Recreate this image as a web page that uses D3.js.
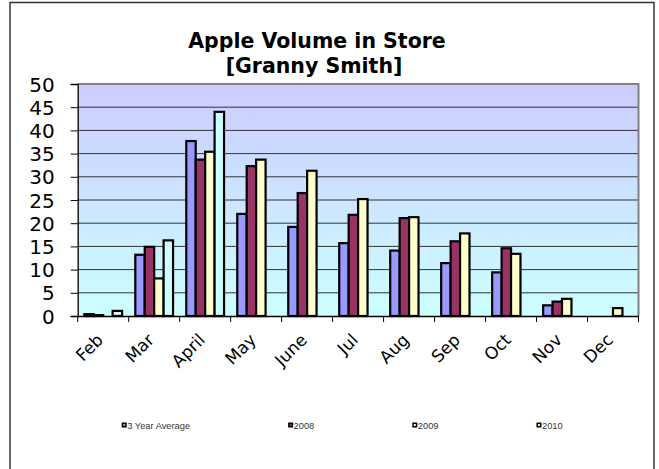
<!DOCTYPE html>
<html><head><meta charset="utf-8">
<script src="https://cdn.jsdelivr.net/npm/d3@7"></script>
<style>html,body{margin:0;padding:0;background:#fff;}svg{display:block;}</style>
</head><body>
<script>
const months = ["Feb","Mar","April","May","June","Jul","Aug","Sep","Oct","Nov","Dec"];
const seriesNames = ["3 Year Average","2008","2009","2010"];
const avg3  = [0.4, 13.2, 37.7, 22.0, 19.2, 15.7, 14.1, 11.4, 9.4, 2.3, null];
const y2008 = [0.2, 14.9, 33.7, 32.3, 26.5, 21.8, 21.1, 16.1, 14.6, 3.1, null];
const y2009 = [0.0, 8.1, 35.4, 33.7, 31.3, 25.2, 21.3, 17.8, 13.4, 3.7, 1.7];
const y2010 = [1.1, 16.3, 44.0, null, null, null, null, null, null, null, null];
const yTicks = [0,5,10,15,20,25,30,35,40,45,50];
const colors = ["#9999FF","#993366","#FFFFCC","#CCFFFF"];

const W = 659, H = 469;
const L = 77.7, R = 638.5, T = 84, B = 316;
const svg = d3.select("body").append("svg").attr("width", W).attr("height", H);

// chart frame
svg.append("rect").attr("x",10).attr("y",2.5).attr("width",644).attr("height",480)
  .attr("fill","#fff").attr("stroke","#333").attr("stroke-width",1.5);

const defs = svg.append("defs");
const grad = defs.append("linearGradient").attr("id","bg").attr("x1",0).attr("y1",0).attr("x2",0).attr("y2",1);
grad.append("stop").attr("offset","0%").attr("stop-color","#CCCCFF");
grad.append("stop").attr("offset","100%").attr("stop-color","#CCFFFF");

const x = d3.scaleBand().domain(months).range([L,R]).padding(0);
const xs = d3.scaleBand().domain(seriesNames).range([0, x.bandwidth()]).paddingInner(0).paddingOuter(0.7);
const y = d3.scaleLinear().domain([0,50]).range([B,T]);

svg.append("rect").attr("x",L).attr("y",T).attr("width",R-L).attr("height",B-T).attr("fill","url(#bg)");

// gridlines
svg.append("g").selectAll("line").data(yTicks.filter(d=>d>0 && d<50)).join("line")
  .attr("x1",L).attr("x2",R).attr("y1",d=>y(d)).attr("y2",d=>y(d))
  .attr("stroke","#333").attr("stroke-width",1);

// plot border top/right gray
svg.append("path").attr("d",`M${L},${T}H${R}V${B}`).attr("fill","none")
  .attr("stroke","#808080").attr("stroke-width",2);

// bars
const all = [avg3,y2008,y2009,y2010];
const rows = [];
months.forEach((m,i)=>{
  seriesNames.forEach((s,j)=>{
    const v = all[j][i];
    if (v !== null && v !== undefined) rows.push({m,s,v,c:colors[j]});
  });
});
svg.append("g").selectAll("rect").data(rows).join("rect")
  .attr("x",d=>x(d.m)+xs(d.s)).attr("width",xs.bandwidth())
  .attr("y",d=>y(d.v)).attr("height",d=>B-y(d.v))
  .attr("fill",d=>d.c).attr("stroke","#000").attr("stroke-width",2.2);

// y axis
const ya = svg.append("g").attr("transform",`translate(${L},0)`)
  .call(d3.axisLeft(y).tickValues(yTicks).tickSize(7).tickPadding(0).tickFormat(d3.format("d")));
ya.select(".domain").attr("stroke","#000").attr("stroke-width",1.3);
ya.selectAll(".tick line").attr("stroke","#000");
ya.selectAll(".tick text").attr("x",-23).attr("dy","0.35em")
  .style("font-family","'DejaVu Sans', sans-serif").style("font-size","20px").attr("fill","#000");

// x axis
const xa = svg.append("g").attr("transform",`translate(0,${B})`)
  .call(d3.axisBottom(x).tickSize(0).tickFormat(""));
xa.select(".domain").attr("stroke","#000").attr("stroke-width",1.3);
xa.selectAll(".tick").remove();
const bounds = months.map(m=>x(m)).concat([R]);
xa.selectAll("line.tk").data(bounds).join("line").attr("class","tk")
  .attr("x1",d=>d).attr("x2",d=>d).attr("y1",0).attr("y2",6).attr("stroke","#000");
svg.append("g").selectAll("text").data(months).join("text")
  .attr("transform",d=>`translate(${x(d)+x.bandwidth()/2+1},${B+25}) rotate(-45)`)
  .attr("text-anchor","end")
  .style("font-family","'DejaVu Sans', sans-serif").style("font-size","17px").attr("fill","#000")
  .text(d=>d);

// title
const title = svg.append("text").attr("text-anchor","middle")
  .style("font-family","'DejaVu Sans', sans-serif").style("font-weight","bold").style("font-size","20.5px").attr("fill","#000");
title.append("tspan").attr("x",317).attr("y",48).text("Apple Volume in Store");
title.append("tspan").attr("x",314).attr("y",73).text("[Granny Smith]");

// legend
const lg = svg.append("g");
let lx = 121.7;
seriesNames.forEach((s,j)=>{
  const g = lg.append("g").attr("transform",`translate(${lx},0)`);
  g.append("rect").attr("x",0).attr("y",422.5).attr("width",5).attr("height",5).attr("fill","#000");
  g.append("rect").attr("x",1.5).attr("y",424).attr("width",2).attr("height",2).attr("fill",colors[j]);
  const t = g.append("text").attr("x",5.5).attr("y",429)
    .style("font-family","'Liberation Sans', Arial, sans-serif").style("font-size","9.3px").attr("fill","#333").text(s);
  lx += 5.5 + t.node().getComputedTextLength() + 98;
});
</script>
</body></html>
